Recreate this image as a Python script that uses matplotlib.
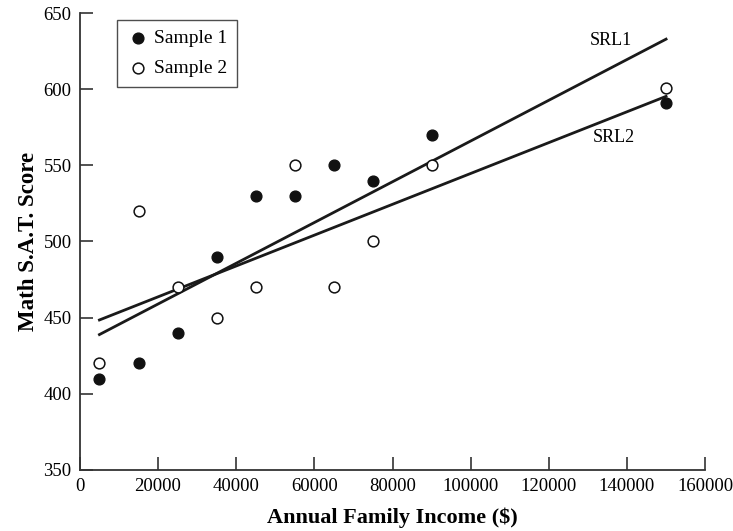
import numpy as np
import matplotlib
matplotlib.use("Agg")
import matplotlib.pyplot as plt

plt.rcParams['font.family'] = ['Liberation Serif', 'DejaVu Serif']

# annual family income and math SAT scores for the two samples
income = [5000, 15000, 25000, 35000, 45000, 55000, 65000, 75000, 90000, 150000]
sat1 = [410, 420, 440, 490, 530, 530, 550, 540, 570, 591]
sat2 = [420, 520, 470, 450, 470, 550, 470, 500, 550, 601]

xticks = list(range(0, 160001, 20000))
yticks = list(range(350, 651, 50))

x = np.array(income, dtype=float)

# least squares lines for each sample
b1, a1 = np.polyfit(x, sat1, 1)
b2, a2 = np.polyfit(x, sat2, 1)
xl = np.array([x.min(), x.max()])

fig = plt.figure(figsize=(7.33, 5.31), dpi=100)
ax = fig.add_axes([0.109, 0.115, 0.853, 0.8605])

ax.plot(xl, a1 + b1 * xl, color='#1a1a1a', lw=2, zorder=2)
ax.plot(xl, a2 + b2 * xl, color='#1a1a1a', lw=2, zorder=2)

ax.scatter(income, sat1, s=60, color='#111111', edgecolor='#111111',
           zorder=3, label='Sample 1')
ax.scatter(income, sat2, s=60, facecolor='white', edgecolor='#111111',
           linewidth=1.1, zorder=3, label='Sample 2')

ax.text(136000, 632, 'SRL1', ha='center', va='center', fontsize=13)
ax.text(136500, 568, 'SRL2', ha='center', va='center', fontsize=13)

ax.set_xlim(0, 160000)
ax.set_ylim(350, 650)
ax.set_xticks(xticks)
ax.set_yticks(yticks)
ax.tick_params(direction='in', length=9.5, width=1.2, labelsize=13.5,
               color='#333333', pad=6)
for side in ['top', 'right']:
    ax.spines[side].set_visible(False)
for side in ['left', 'bottom']:
    ax.spines[side].set_linewidth(1.3)
    ax.spines[side].set_color('#333333')

ax.set_xlabel('Annual Family Income ($)', fontsize=16, fontweight='bold',
              labelpad=9)
ax.set_ylabel('Math S.A.T. Score', fontsize=16.5, fontweight='bold',
              labelpad=3)

leg = ax.legend(loc='upper left', bbox_to_anchor=(0.059, 0.985),
                borderaxespad=0, fontsize=14, frameon=True, fancybox=False,
                handletextpad=0.2, borderpad=0.5, handlelength=1.2,
                labelspacing=0.65)
leg.get_frame().set_edgecolor('#222222')
leg.get_frame().set_linewidth(1.0)

fig.savefig('out.png', dpi=100)
